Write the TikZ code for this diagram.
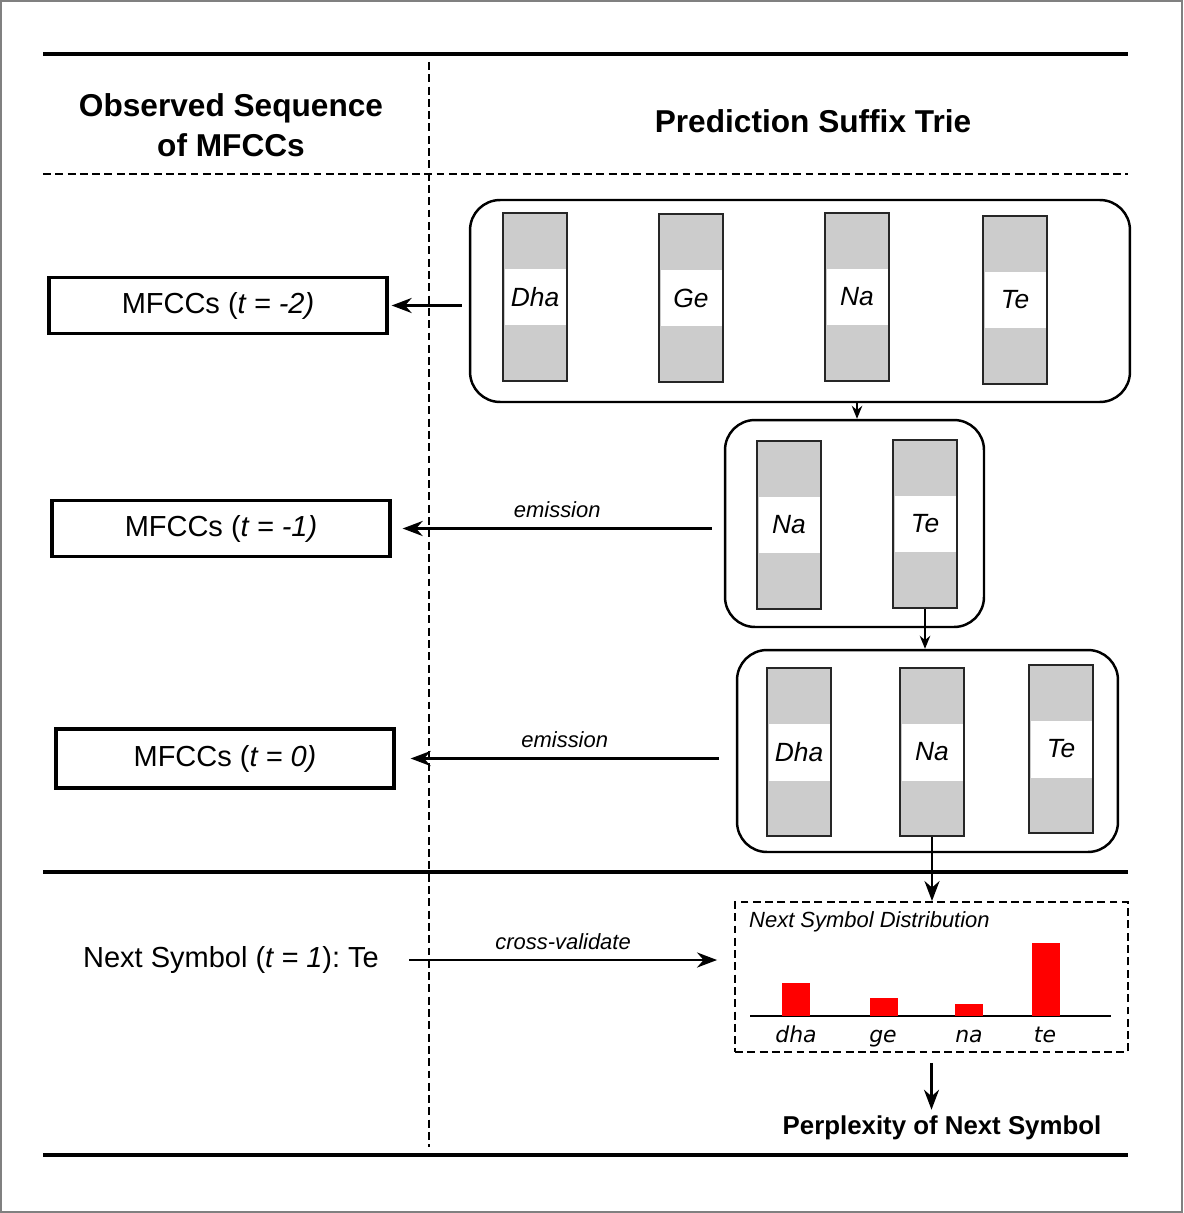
\documentclass[tikz,border=0pt]{standalone}
\usepackage{fontspec}
\setmainfont{Liberation Sans}
\newfontfamily\barfont{DejaVu Sans}
\usetikzlibrary{positioning, arrows.meta}
\frenchspacing

\begin{document}
\begin{tikzpicture}[x=0.02cm, y=-0.02cm,
    obsbox/.style={rectangle, draw=black, line width=1.9pt, minimum width=6.76cm, minimum height=1.12cm, font=\fontsize{16.5}{19}\selectfont},
    trienode/.style={rectangle, rounded corners=0.6cm, draw=black, line width=1.4pt},
    symcol/.style={rectangle, draw=black!85, fill=gray!40, line width=1.2pt, minimum width=1.28cm, minimum height=3.36cm},
    symname/.style={fill=white, minimum width=1.22cm, minimum height=1.14cm, inner sep=0pt, font=\fontsize{15}{18}\selectfont\itshape},
    header/.style={align=center, font=\fontsize{18}{22.8}\selectfont\bfseries},
    edgelabel/.style={font=\fontsize{12.5}{15}\selectfont\itshape},
    barlabel/.style={anchor=base, font=\fontsize{12.5}{15}\selectfont\barfont\itshape},
    flow/.style={-{Stealth[length=4mm, width=3mm]}, line width=1.6pt},
    smallflow/.style={-{Stealth[length=2.6mm, width=2.1mm]}, line width=1.1pt},
    rule/.style={line width=2.1pt},
    dashrule/.style={line width=1.3pt, dash pattern=on 4.5pt off 2.5pt}
    ]
    \useasboundingbox (0,0) rectangle (1183,1213);
    \draw[gray, line width=0.8pt] (1,1) rectangle (1182,1212);

    % table rules
    \draw[rule] (43,54) -- (1128,54);
    \draw[dashrule] (43,174) -- (1128,174);
    \draw[rule] (43,872) -- (1128,872);
    \draw[rule] (43,1155) -- (1128,1155);
    \draw[dashrule] (429,62) -- (429,1147);

    \node[header] (obshead)  at (231,125) {Observed Sequence\\of MFCCs};
    \node[header] (triehead) at (813,121) {Prediction Suffix Trie};

    % observed MFCCs
    \node[obsbox] (obsm2) at (218,305.5) {MFCCs (\textit{t = -2)}};
    \node[obsbox] (obsm1) at (221,528.5) {MFCCs (\textit{t = -1)}};
    \node[obsbox, minimum height=1.18cm] (obs0) at (225,758.5) {MFCCs (\textit{t = 0)}};
    \node[font=\fontsize{16.5}{19}\selectfont] (nextsym) at (231,960) {Next Symbol (\textit{t = 1}): Te};

    % suffix trie
    \node[trienode, minimum width=13.2cm, minimum height=4.04cm] (r1) at (800,301) {};
    \node[trienode, minimum width=5.18cm, minimum height=4.14cm] (r2) at (854.5,523.5) {};
    \node[trienode, minimum width=7.62cm, minimum height=4.04cm] (r3) at (927.5,751) {};

    \node[symcol] (r1dha) at (535,297) {};
    \node[symname] at (r1dha) {Dha};
    \node[symcol] (r1ge) at (691,298) {};
    \node[symname] at (r1ge) {Ge};
    \node[symcol] (r1na) at (857,297) {};
    \node[symname] at (r1na) {Na};
    \node[symcol] (r1te) at (1015,300) {};
    \node[symname] at (r1te) {Te};

    \node[symcol] (r2na) at (789,525) {};
    \node[symname] at (r2na) {Na};
    \node[symcol] (r2te) at (925,524) {};
    \node[symname] at (r2te) {Te};

    \node[symcol] (r3dha) at (799,752) {};
    \node[symname] at (r3dha) {Dha};
    \node[symcol] (r3na) at (932,752) {};
    \node[symname] at (r3na) {Na};
    \node[symcol] (r3te) at (1061,749) {};
    \node[symname] at (r3te) {Te};

    % next symbol distribution
    \node[draw, dashrule, line width=1.1pt, minimum width=7.86cm, minimum height=3cm] (dist) at (931.5,977) {};
    \node[edgelabel, anchor=west] (disttitle) at (743,922) {Next Symbol Distribution};
    \draw[line width=1.1pt] (750,1016) -- (1111,1016);
    \fill[red] (782,1016) rectangle (810,983);
    \fill[red] (870,1016) rectangle (898,998);
    \fill[red] (955,1016) rectangle (983,1004);
    \fill[red] (1032,1016) rectangle (1060,943);
    \node[barlabel] (ldha) at (796,1042) {dha};
    \node[barlabel] (lge)  at (883,1042) {ge};
    \node[barlabel] (lna)  at (969,1042) {na};
    \node[barlabel] (lte)  at (1045,1042) {te};

    \node[font=\fontsize{14.7}{17}\selectfont\bfseries] (perplex) at (942,1128) {Perplexity of Next Symbol};

    % connectors
    \coordinate (r1out) at ([xshift=-0.14cm]r1.west);
    \coordinate (r2out) at ([xshift=-0.24cm]r2.west);
    \coordinate (r3out) at ([xshift=-0.34cm]r3.west);
    \draw[flow] (r1out |- obsm2.east) -- ([xshift=0.06cm]obsm2.east);
    \draw[flow] (r2out |- obsm1.east) -- node[edgelabel, above=2pt] {emission} ([xshift=0.22cm]obsm1.east);
    \draw[flow] (r3out |- obs0.east) -- node[edgelabel, above=2pt] {emission} ([xshift=0.3cm]obs0.east);
    \draw[flow] ([xshift=0.48cm]nextsym.east) -- node[edgelabel, above=2pt] {cross-validate} ([xshift=-0.34cm]dist.west |- nextsym.east);

    \draw[smallflow] (r1na |- r1.south) -- (r1na |- r2.north);
    \draw[smallflow] (r2te.south) -- (r2te |- r3.north);
    \draw[flow] (r3na.south) -- (r3na |- dist.north);
    \draw[flow] ([yshift=-0.2cm]dist.south) -- (dist.south |- perplex.north);
\end{tikzpicture}
\end{document}
